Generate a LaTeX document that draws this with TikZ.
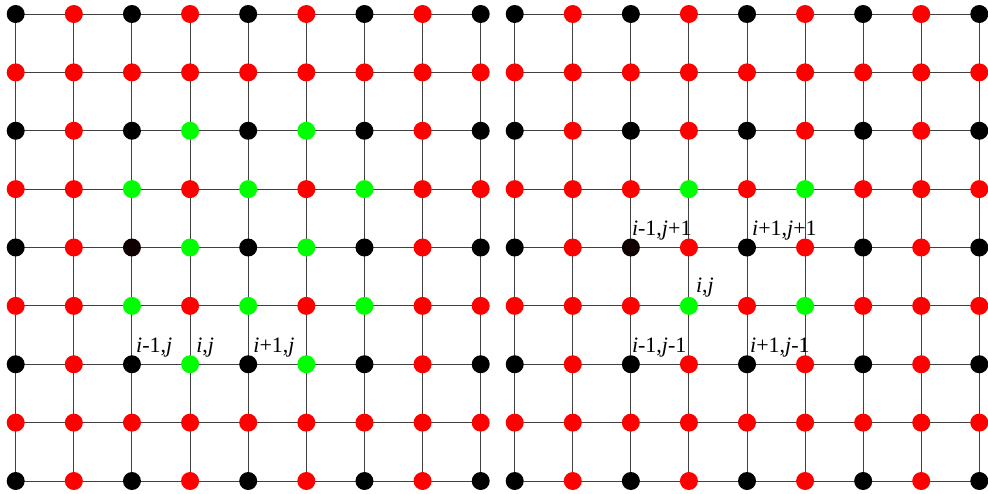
\documentclass[tikz,border=0pt]{standalone}
\usepackage{fontspec}
\setmainfont{Liberation Serif}
\usetikzlibrary{backgrounds}
\definecolor{cK}{RGB}{0,0,0}
\definecolor{cR}{RGB}{255,0,0}
\definecolor{cG}{RGB}{0,255,0}
\definecolor{cD}{RGB}{16,0,0}
\begin{document}
\begin{tikzpicture}[x=1pt,y=-1pt,
  dot/.style={circle,inner sep=0pt,minimum size=18pt,draw=none},
  gridline/.style={line width=1pt,draw=black!75},
  lab/.style={anchor=base west,inner sep=0pt,font=\fontsize{22}{22}\selectfont}]
\useasboundingbox (0,0) rectangle (988,493);
% left grid
\foreach \row [count=\r from 0] in {
  {cK,cR,cK,cR,cK,cR,cK,cR,cK},
  {cR,cR,cR,cR,cR,cR,cR,cR,cR},
  {cK,cR,cK,cG,cK,cG,cK,cR,cK},
  {cR,cR,cG,cR,cG,cR,cG,cR,cR},
  {cK,cR,cD,cG,cK,cG,cK,cR,cK},
  {cR,cR,cG,cR,cG,cR,cG,cR,cR},
  {cK,cR,cK,cG,cK,cG,cK,cR,cK},
  {cR,cR,cR,cR,cR,cR,cR,cR,cR},
  {cK,cR,cK,cR,cK,cR,cK,cR,cK}}{
  \foreach \col [count=\c from 0] in \row {
    \node[dot,fill=\col] (L-\r-\c) at ({15.7+58.125*\c},{14+58.375*\r}) {};
  }
}
% right grid
\foreach \row [count=\r from 0] in {
  {cK,cR,cK,cR,cK,cR,cK,cR,cK},
  {cR,cR,cR,cR,cR,cR,cR,cR,cR},
  {cK,cR,cK,cR,cK,cR,cK,cR,cK},
  {cR,cR,cR,cG,cR,cG,cR,cR,cR},
  {cK,cR,cD,cR,cK,cR,cK,cR,cK},
  {cR,cR,cR,cG,cR,cG,cR,cR,cR},
  {cK,cR,cK,cR,cK,cR,cK,cR,cK},
  {cR,cR,cR,cR,cR,cR,cR,cR,cR},
  {cK,cR,cK,cR,cK,cR,cK,cR,cK}}{
  \foreach \col [count=\c from 0] in \row {
    \node[dot,fill=\col] (R-\r-\c) at ({514.7+58.075*\c},{14+58.375*\r}) {};
  }
}
\begin{scope}[on background layer]
  \foreach \k in {0,...,8} {
    \draw[gridline] (L-\k-0.center) -- (L-\k-8.center);
    \draw[gridline] (L-0-\k.center) -- (L-8-\k.center);
    \draw[gridline] (R-\k-0.center) -- (R-\k-8.center);
    \draw[gridline] (R-0-\k.center) -- (R-8-\k.center);
  }
\end{scope}
% labels left
\node[lab] (la1) at ([shift={(4,-12)}]L-6-2.center) {\textit{i}-1,\textit{j}};
\node[lab] (la2) at ([shift={(6,-12)}]L-6-3.center) {\textit{i},\textit{j}};
\node[lab] (la3) at ([shift={(5,-12)}]L-6-4.center) {\textit{i}+1,\textit{j}};
% labels right
\node[lab] (lb1) at ([shift={(1,-12)}]R-4-2.center) {\textit{i}-1,\textit{j}+1};
\node[lab] (lb2) at ([shift={(5,-12)}]R-4-4.center) {\textit{i}+1,\textit{j}+1};
\node[lab] (lb3) at ([shift={(7,-13)}]R-5-3.center) {\textit{i},\textit{j}};
\node[lab] (lb4) at ([shift={(1,-12)}]R-6-2.center) {\textit{i}-1,\textit{j}-1};
\node[lab] (lb5) at ([shift={(3,-12)}]R-6-4.center) {\textit{i}+1,\textit{j}-1};
\end{tikzpicture}
\end{document}
